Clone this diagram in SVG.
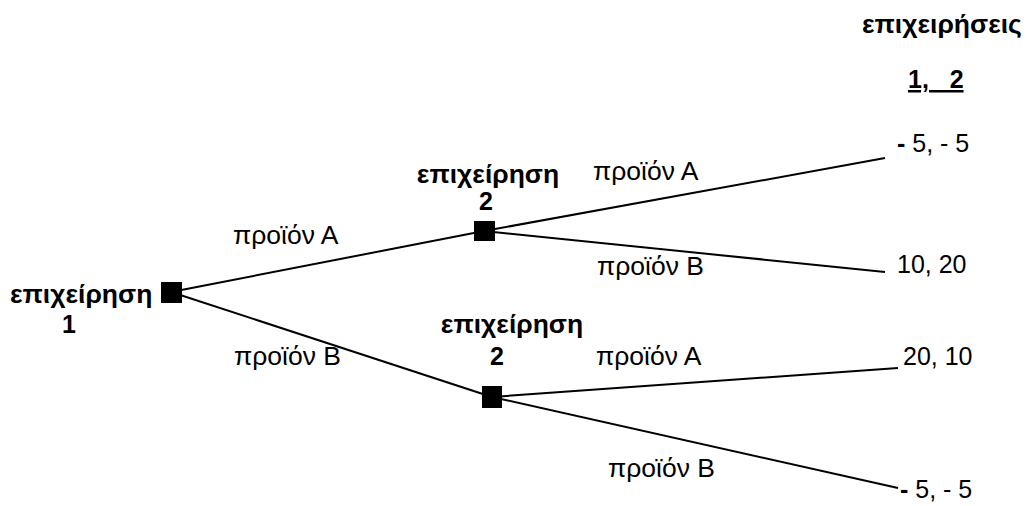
<svg xmlns="http://www.w3.org/2000/svg" width="1027" height="506" viewBox="0 0 1027 506">
<style>
text{font-family:"Liberation Sans",Arial,sans-serif;font-size:26.5px;fill:#000;white-space:pre}
.b{font-weight:bold}
.m{text-anchor:middle}
.n{font-size:25px}
line{stroke:#000;stroke-width:2}
.node{fill:#000}
</style>
<rect width="1027" height="506" fill="#fff"/>
<g id="connectors">
<line x1="171" y1="292" x2="484" y2="231"/>
<line x1="171" y1="292" x2="492" y2="397"/>
<line x1="484" y1="231" x2="885" y2="158"/>
<line x1="484" y1="231" x2="885" y2="272"/>
<line x1="492" y1="397" x2="898" y2="368"/>
<line x1="492" y1="397" x2="898" y2="488"/>
</g>
<g id="node1">
<rect class="node" x="161" y="282" width="21" height="21"/>
<text class="b" x="10" y="303">επιχείρηση</text>
<text class="b n" x="62" y="333">1</text>
</g>
<g id="node2a">
<rect class="node" x="474" y="221" width="21" height="20"/>
<text class="b m" x="488" y="183">επιχείρηση</text>
<text class="b m n" x="486" y="210">2</text>
</g>
<g id="node2b">
<rect class="node" x="482" y="386" width="20" height="22"/>
<text class="b m" x="512" y="333">επιχείρηση</text>
<text class="b m n" x="497" y="365">2</text>
</g>
<g id="labels">
<text x="233" y="244">προϊόν Α</text>
<text x="234" y="365">προϊόν Β</text>
<text x="593" y="180">προϊόν Α</text>
<text x="597" y="275">προϊόν Β</text>
<text x="596" y="365">προϊόν Α</text>
<text x="608" y="477">προϊόν Β</text>
</g>
<g id="payoffs">
<text class="b" x="862" y="33">επιχειρήσεις</text>
<text class="b n" x="908" y="88" text-decoration="underline">1,   2</text>
<text class="n" x="897" y="152"><tspan class="b">-</tspan> 5, - 5</text>
<text class="n" x="897" y="273">10, 20</text>
<text class="n" x="903" y="365">20, 10</text>
<text class="n" x="900" y="498"><tspan class="b">-</tspan> 5, - 5</text>
</g>
</svg>
